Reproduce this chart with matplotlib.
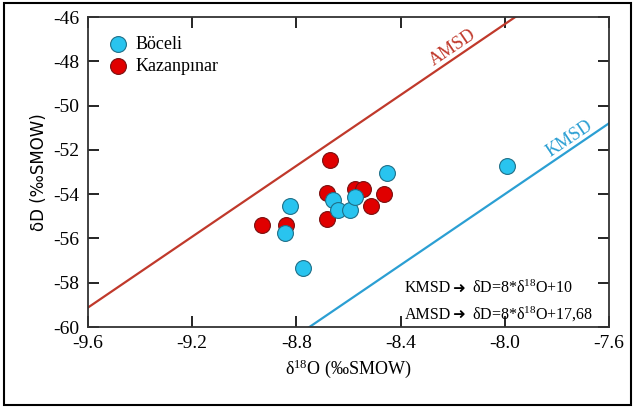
import numpy as np
import matplotlib
matplotlib.use('Agg')
from matplotlib import pyplot as plt
from matplotlib.patches import Rectangle

plt.rcParams['font.family'] = ['Liberation Serif', 'DejaVu Sans']
plt.rcParams['mathtext.fontset'] = 'custom'
plt.rcParams['mathtext.rm'] = 'Liberation Serif'
plt.rcParams['mathtext.it'] = 'Liberation Serif:italic'
plt.rcParams['axes.unicode_minus'] = False

# data
boceli_o18 = [-8.453, -8.825, -8.843, -8.773, -8.661, -8.641, -8.594, -8.574, -7.99]
boceli_d = [-53.05, -54.55, -55.75, -57.35, -54.25, -54.7, -54.7, -54.15, -52.75]
kazan_o18 = [-8.671, -8.933, -8.84, -8.684, -8.684, -8.575, -8.543, -8.514, -8.464]
kazan_d = [-52.45, -55.4, -55.4, -53.95, -55.1, -53.75, -53.75, -54.55, -54.0]

# meteoric water lines: slope, intercept
kmsd = (8, 10)
amsd = (8, 17.68)

fig = plt.figure(figsize=(6.35, 4.08), dpi=100)
ax = fig.add_axes([0.1386, 0.1985, 0.8204, 0.7597])

xs = np.array([-9.6, -7.6])
ax.plot(xs, amsd[0] * xs + amsd[1], color='#c0392b', lw=1.6, zorder=2)
ax.plot(xs, kmsd[0] * xs + kmsd[1], color='#2b9fd3', lw=1.6, zorder=2)

kz = ax.scatter(kazan_o18, kazan_d, s=130, c='#e00000', edgecolors='#7a1010',
                linewidths=0.8, zorder=3, label='Kazanpınar')
bc = ax.scatter(boceli_o18, boceli_d, s=130, c='#29c4ef', edgecolors='#1f6f88',
                linewidths=0.8, zorder=4, label='Böceli')

ax.legend(handles=[bc, kz], loc='upper left', frameon=False, fontsize=13,
          handletextpad=0.0, borderaxespad=0.4, labelspacing=0.25,
          bbox_to_anchor=(-0.005, 0.985))

ax.text(-8.2, -47.4, 'AMSD', color='#c0392b', fontsize=13, rotation=34,
        ha='center', va='center')
ax.text(-7.75, -51.5, 'KMSD', color='#2b9fd3', fontsize=13, rotation=34,
        ha='center', va='center')

# equations: name, arrow, formula chained one after the other
def equation(y, name, formula):
    t1 = ax.text(-8.385, y, name, fontsize=11.5, ha='left', va='center')
    t2 = ax.annotate('\u279c', xy=(1, 0.5), xycoords=t1, xytext=(1, 0),
                     textcoords='offset points', fontsize=11, ha='left',
                     va='center', family='DejaVu Sans')
    ax.annotate(formula, xy=(1, 0.5), xycoords=t2, xytext=(5, 0),
                textcoords='offset points', fontsize=11.5, ha='left', va='center')

equation(-58.25, 'KMSD', '\u03b4D=8*\u03b4$^{18}$O+10')
equation(-59.45, 'AMSD', '\u03b4D=8*\u03b4$^{18}$O+17,68')

ax.set_xlim(-9.6, -7.6)
ax.set_ylim(-60, -46)
ax.set_xticks([-9.6, -9.2, -8.8, -8.4, -8.0, -7.6])
ax.set_xticklabels(['-9.6', '-9.2', '-8.8', '-8.4', '-8.0', '-7.6'])
ax.set_yticks(np.arange(-60, -45, 2))
ax.tick_params(direction='in', length=8, width=1.2, top=True, right=True,
               labelsize=14, pad=6)
for s in ax.spines.values():
    s.set_linewidth(1.3)
    s.set_color('#333333')

ax.set_xlabel('\u03b4$^{18}$O (\u2030SMOW)', fontsize=13, labelpad=4)
ax.set_ylabel('\u03b4D (\u2030SMOW)', fontsize=12, family='DejaVu Sans', labelpad=4)

fig.patches.append(Rectangle((0.006, 0.008), 0.988, 0.985, transform=fig.transFigure,
                             fill=False, lw=1.5, ec='black'))

fig.savefig('out.png', dpi=100)
